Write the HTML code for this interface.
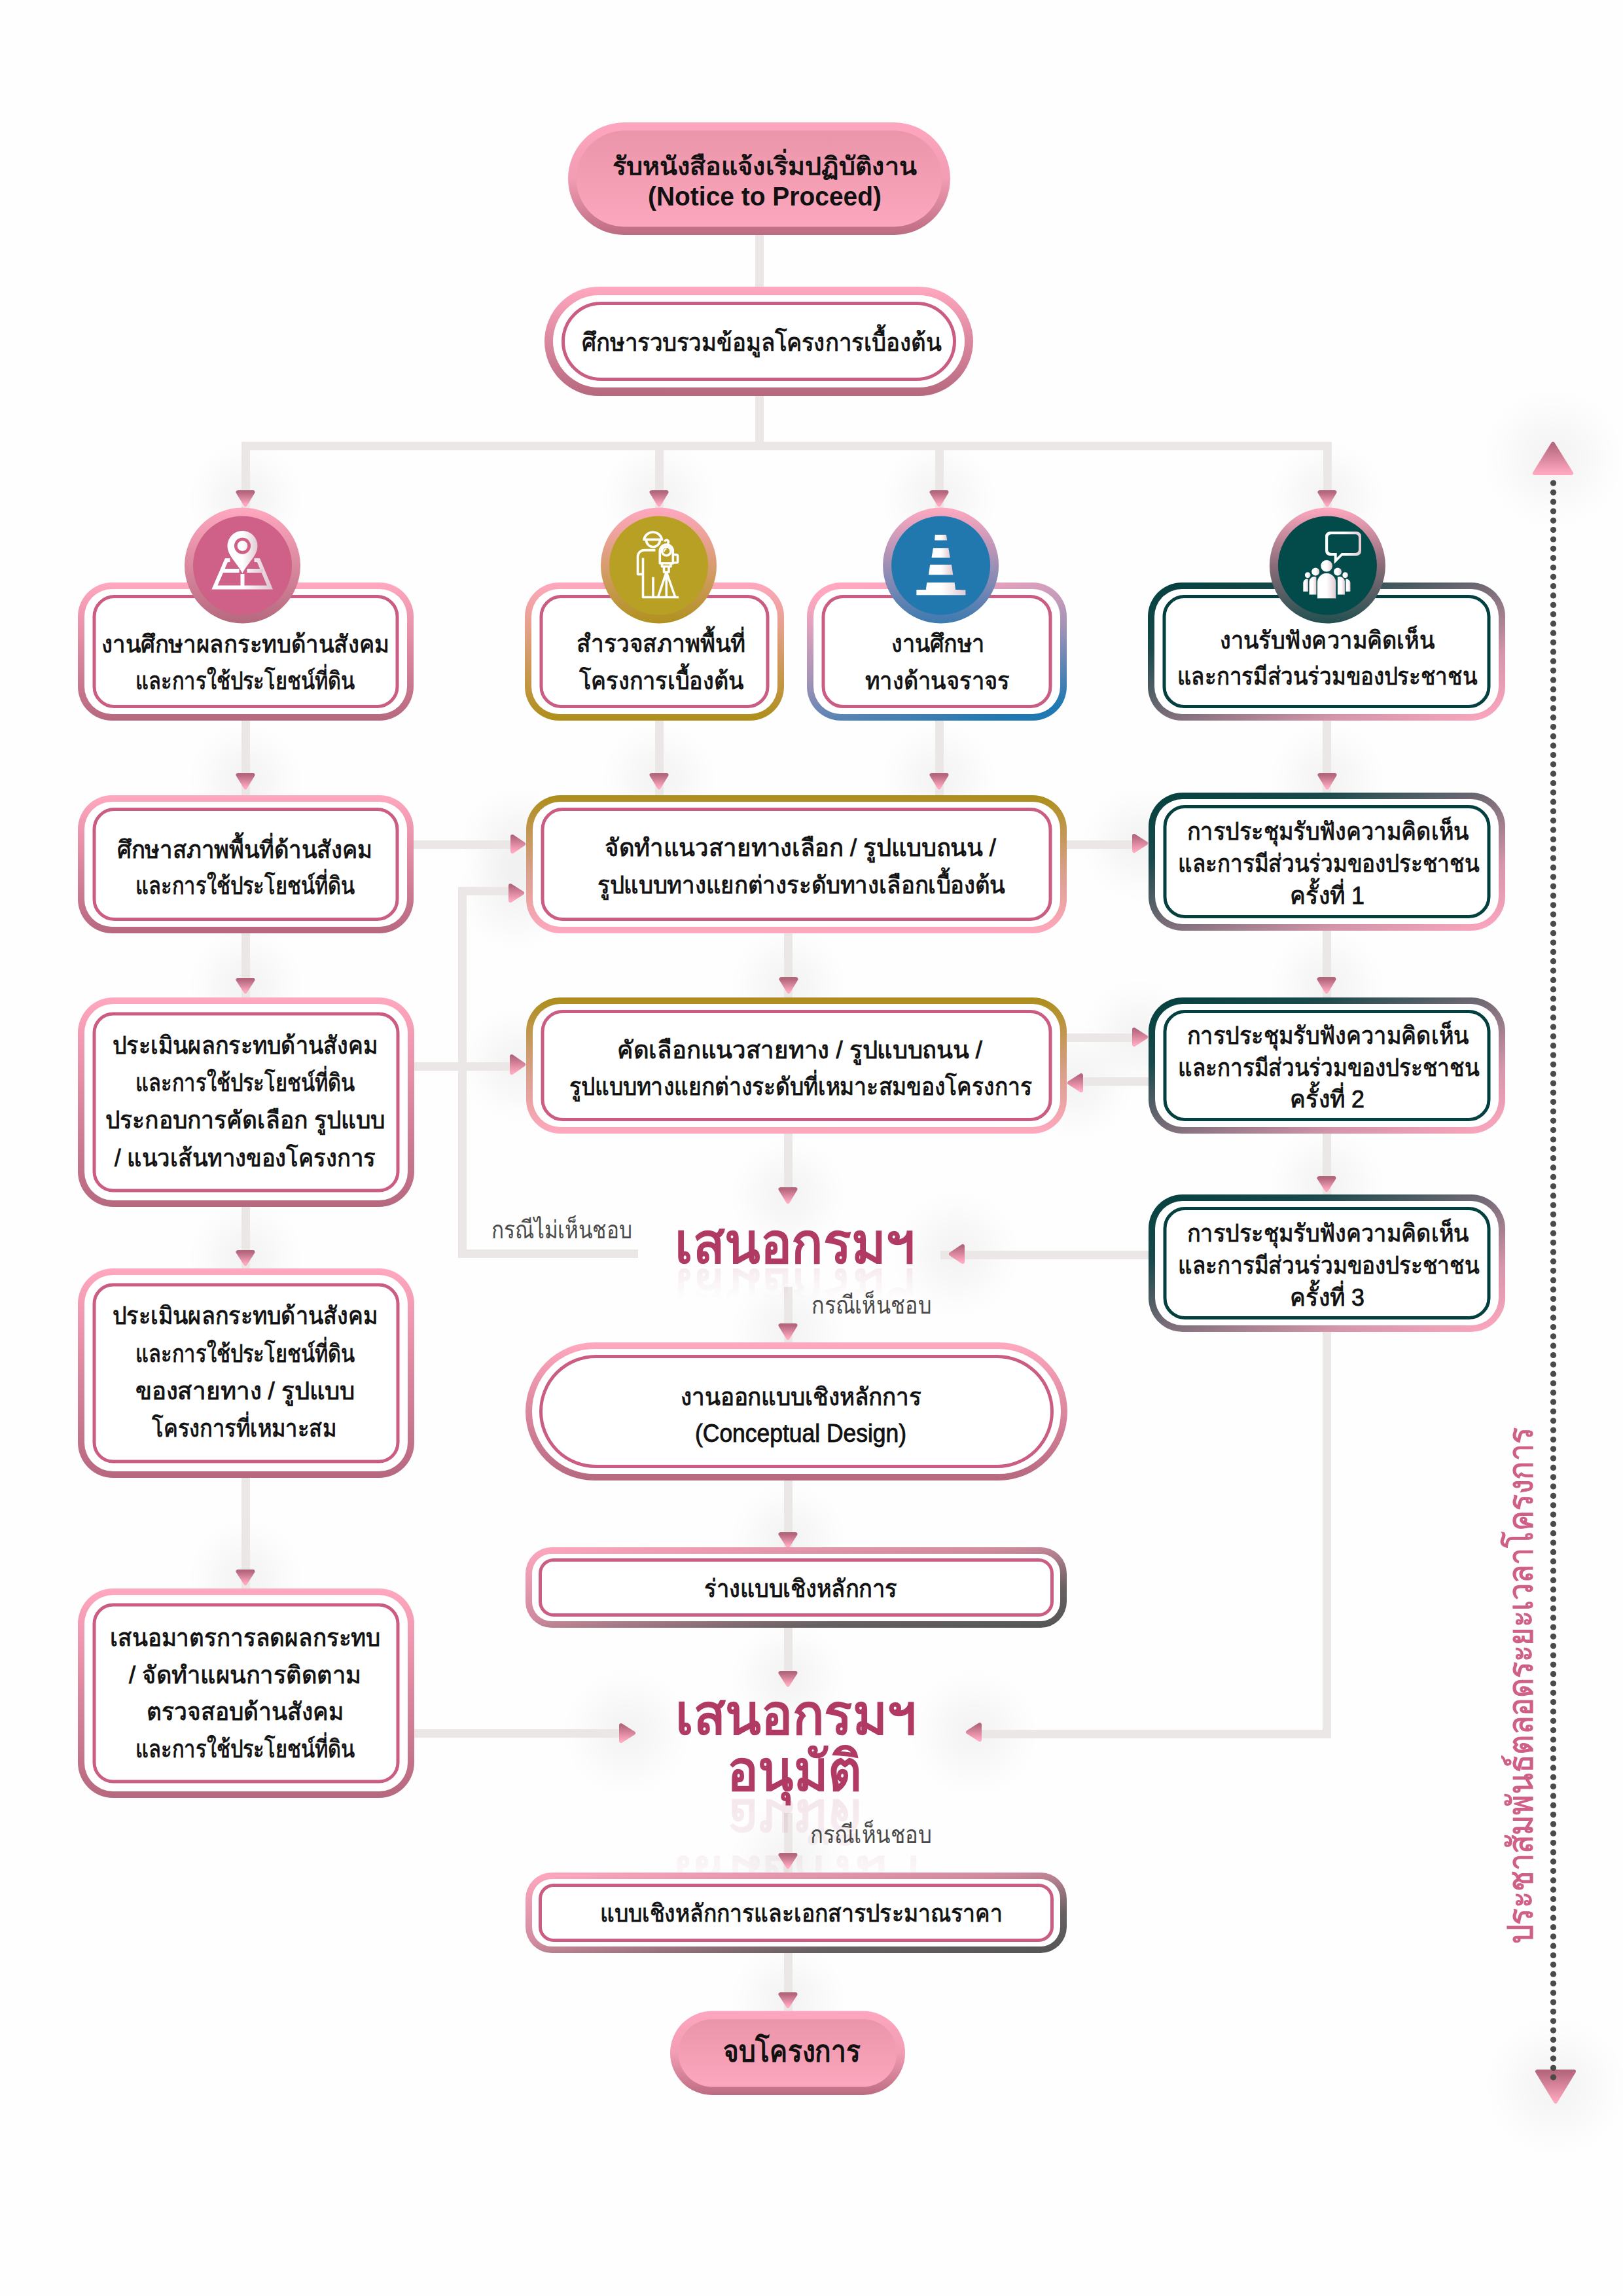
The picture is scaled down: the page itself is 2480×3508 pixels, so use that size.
<!DOCTYPE html>
<html><head><meta charset="utf-8"><style>
html,body{margin:0;padding:0;background:#fff;}
svg{display:block;font-family:"Liberation Sans",sans-serif;}
</style></head><body>
<svg width="2480" height="3508" viewBox="0 0 2480 3508">
<defs><linearGradient id="gPink" x1="0" y1="0" x2="0" y2="1"><stop offset="0" stop-color="#ffa8c0"/><stop offset="1" stop-color="#b6687e"/></linearGradient><linearGradient id="gPinkGold" x1="0" y1="0" x2="0" y2="1"><stop offset="0" stop-color="#ffa8c0"/><stop offset="1" stop-color="#ad8f18"/></linearGradient><linearGradient id="gGoldPink" x1="0" y1="0" x2="0" y2="1"><stop offset="0" stop-color="#ac8e1a"/><stop offset="0.55" stop-color="#d9a08a"/><stop offset="1" stop-color="#ffa8c0"/></linearGradient><linearGradient id="gPinkBlue" x1="0.3" y1="0" x2="0.7" y2="1"><stop offset="0" stop-color="#ffa8c0"/><stop offset="0.5" stop-color="#a593b6"/><stop offset="1" stop-color="#1f78b2"/></linearGradient><linearGradient id="gTealPink" x1="0" y1="0" x2="1" y2="1"><stop offset="0" stop-color="#03403f"/><stop offset="0.25" stop-color="#1a4a4b"/><stop offset="0.5" stop-color="#786c77"/><stop offset="0.75" stop-color="#d495aa"/><stop offset="1" stop-color="#ffa8c0"/></linearGradient><linearGradient id="gPinkGray" x1="0" y1="0" x2="1" y2="1"><stop offset="0" stop-color="#ffa8c0"/><stop offset="0.45" stop-color="#d08a9e"/><stop offset="0.75" stop-color="#666061"/><stop offset="1" stop-color="#555555"/></linearGradient><linearGradient id="gArrow" x1="0" y1="0" x2="0" y2="1"><stop offset="0" stop-color="#b4667c"/><stop offset="1" stop-color="#ffa8c0"/></linearGradient><linearGradient id="gPillOut" x1="0" y1="0" x2="0" y2="1"><stop offset="0" stop-color="#fea6bf"/><stop offset="0.5" stop-color="#f19db4"/><stop offset="1" stop-color="#bc6c82"/></linearGradient><linearGradient id="gPillIn" x1="0" y1="0" x2="0" y2="1"><stop offset="0" stop-color="#ea95a9"/><stop offset="1" stop-color="#fca7bd"/></linearGradient><linearGradient id="gCircPink" x1="0" y1="0" x2="0" y2="1"><stop offset="0" stop-color="#ffa8c0"/><stop offset="1" stop-color="#b5697e"/></linearGradient><linearGradient id="gCircGold" x1="0" y1="0" x2="0" y2="1"><stop offset="0" stop-color="#ffa8c0"/><stop offset="1" stop-color="#b0911e"/></linearGradient><linearGradient id="gCircBlue" x1="0" y1="0" x2="0" y2="1"><stop offset="0" stop-color="#ffa8c0"/><stop offset="0.5" stop-color="#9f8fb5"/><stop offset="1" stop-color="#3b7ab0"/></linearGradient><linearGradient id="gCircTeal" x1="0" y1="0" x2="0" y2="1"><stop offset="0" stop-color="#ffa8c0"/><stop offset="0.5" stop-color="#8a6c78"/><stop offset="1" stop-color="#21504f"/></linearGradient><linearGradient id="gIcon" x1="0" y1="0" x2="1" y2="0"><stop offset="0" stop-color="#ffffff"/><stop offset="0.5" stop-color="#ffffff"/><stop offset="1" stop-color="#e2cad2"/></linearGradient><linearGradient id="gRefl" x1="0" y1="0" x2="0" y2="1"><stop offset="0" stop-color="#f3d5de"/><stop offset="1" stop-color="#ffffff"/></linearGradient><radialGradient id="gGlow"><stop offset="0" stop-color="#000" stop-opacity="0.045"/><stop offset="0.4" stop-color="#000" stop-opacity="0.028"/><stop offset="0.75" stop-color="#000" stop-opacity="0.009"/><stop offset="1" stop-color="#000" stop-opacity="0"/></radialGradient><linearGradient id="gFade" x1="0" y1="0" x2="0" y2="1"><stop offset="0" stop-color="#fff" stop-opacity="0.1"/><stop offset="0.45" stop-color="#fff" stop-opacity="0.055"/><stop offset="1" stop-color="#fff" stop-opacity="0"/></linearGradient><mask id="mR1" maskUnits="userSpaceOnUse" x="900" y="1936" width="700" height="60"><rect x="900" y="1936" width="700" height="48" fill="url(#gFade)"/></mask><mask id="mR2" maskUnits="userSpaceOnUse" x="900" y="2746" width="700" height="130"><rect x="900" y="2746" width="700" height="119" fill="url(#gFade2)"/></mask><linearGradient id="gFade2" x1="0" y1="0" x2="0" y2="1"><stop offset="0" stop-color="#fff" stop-opacity="0.12"/><stop offset="0.5" stop-color="#fff" stop-opacity="0.08"/><stop offset="1" stop-color="#fff" stop-opacity="0.04"/></linearGradient></defs>
<rect width="2480" height="3508" fill="#fefefe"/>
<circle cx="375" cy="762" r="90" fill="url(#gGlow)"/>
<circle cx="1007" cy="762" r="90" fill="url(#gGlow)"/>
<circle cx="1435" cy="762" r="90" fill="url(#gGlow)"/>
<circle cx="2028" cy="762" r="90" fill="url(#gGlow)"/>
<circle cx="375" cy="1192" r="90" fill="url(#gGlow)"/>
<circle cx="1007" cy="1192" r="90" fill="url(#gGlow)"/>
<circle cx="1435" cy="1192" r="90" fill="url(#gGlow)"/>
<circle cx="2028" cy="1192" r="90" fill="url(#gGlow)"/>
<circle cx="375" cy="1505" r="90" fill="url(#gGlow)"/>
<circle cx="1205" cy="1505" r="90" fill="url(#gGlow)"/>
<circle cx="2027" cy="1505" r="90" fill="url(#gGlow)"/>
<circle cx="791" cy="1289" r="90" fill="url(#gGlow)"/>
<circle cx="788" cy="1364" r="90" fill="url(#gGlow)"/>
<circle cx="1741" cy="1289" r="90" fill="url(#gGlow)"/>
<circle cx="791" cy="1626" r="90" fill="url(#gGlow)"/>
<circle cx="1741" cy="1584" r="90" fill="url(#gGlow)"/>
<circle cx="1644" cy="1654" r="90" fill="url(#gGlow)"/>
<circle cx="2027" cy="1809" r="90" fill="url(#gGlow)"/>
<circle cx="1204" cy="1826" r="90" fill="url(#gGlow)"/>
<circle cx="1461" cy="1916" r="100" fill="url(#gGlow)"/>
<circle cx="375" cy="1921" r="90" fill="url(#gGlow)"/>
<circle cx="1204" cy="2034" r="90" fill="url(#gGlow)"/>
<circle cx="375" cy="2410" r="90" fill="url(#gGlow)"/>
<circle cx="1204" cy="2353" r="90" fill="url(#gGlow)"/>
<circle cx="1204" cy="2565" r="90" fill="url(#gGlow)"/>
<circle cx="958" cy="2647" r="100" fill="url(#gGlow)"/>
<circle cx="1488" cy="2647" r="100" fill="url(#gGlow)"/>
<circle cx="1204" cy="2843" r="90" fill="url(#gGlow)"/>
<circle cx="1204" cy="3056" r="90" fill="url(#gGlow)"/>
<circle cx="2373" cy="700" r="110" fill="url(#gGlow)"/>
<circle cx="2377" cy="3187" r="110" fill="url(#gGlow)"/>
<rect x="1154" y="355" width="13" height="86" fill="#ebe7e6"/>
<rect x="1154" y="602" width="13" height="86" fill="#ebe7e6"/>
<rect x="369" y="675" width="1665" height="13" fill="#ebe7e6"/>
<rect x="369" y="675" width="13" height="115" fill="#ebe7e6"/>
<rect x="1001" y="675" width="13" height="115" fill="#ebe7e6"/>
<rect x="1429" y="675" width="13" height="115" fill="#ebe7e6"/>
<rect x="2022" y="675" width="13" height="115" fill="#ebe7e6"/>
<rect x="369" y="1098" width="13" height="120" fill="#ebe7e6"/>
<rect x="1001" y="1098" width="13" height="120" fill="#ebe7e6"/>
<rect x="1429" y="1098" width="13" height="120" fill="#ebe7e6"/>
<rect x="2021" y="1098" width="13" height="116" fill="#ebe7e6"/>
<rect x="369" y="1423" width="13" height="104" fill="#ebe7e6"/>
<rect x="1198" y="1423" width="13" height="104" fill="#ebe7e6"/>
<rect x="2021" y="1419" width="13" height="108" fill="#ebe7e6"/>
<rect x="369" y="1841" width="13" height="100" fill="#ebe7e6"/>
<rect x="369" y="2255" width="13" height="175" fill="#ebe7e6"/>
<rect x="630" y="1284" width="151" height="13" fill="#ebe7e6"/>
<rect x="630" y="1623" width="151" height="13" fill="#ebe7e6"/>
<rect x="700" y="1355" width="13" height="567" fill="#ebe7e6"/>
<rect x="700" y="1355" width="78" height="13" fill="#ebe7e6"/>
<rect x="700" y="1909" width="275" height="13" fill="#ebe7e6"/>
<rect x="1628" y="1284" width="103" height="13" fill="#ebe7e6"/>
<rect x="1628" y="1579" width="103" height="13" fill="#ebe7e6"/>
<rect x="1654" y="1646" width="103" height="13" fill="#ebe7e6"/>
<rect x="1437" y="1911" width="320" height="13" fill="#ebe7e6"/>
<rect x="2021" y="1729" width="13" height="99" fill="#ebe7e6"/>
<rect x="1198" y="1729" width="13" height="91" fill="#ebe7e6"/>
<rect x="1198" y="1966" width="13" height="88" fill="#ebe7e6"/>
<rect x="1198" y="2259" width="13" height="109" fill="#ebe7e6"/>
<rect x="1198" y="2483" width="13" height="77" fill="#ebe7e6"/>
<rect x="1198" y="2770" width="13" height="94" fill="#ebe7e6"/>
<rect x="1198" y="2980" width="13" height="94" fill="#ebe7e6"/>
<rect x="630" y="2642" width="320" height="13" fill="#ebe7e6"/>
<rect x="2021" y="2032" width="13" height="624" fill="#ebe7e6"/>
<rect x="1495" y="2643" width="539" height="13" fill="#ebe7e6"/>
<rect x="868" y="187" width="584" height="172" rx="86.0" fill="url(#gPillOut)"/>
<rect x="880.6" y="199.6" width="558.8" height="146.8" rx="73.4" fill="url(#gPillIn)"/>
<text x="1168.5" y="267" font-size="38" font-weight="bold" fill="#111111" text-anchor="middle" textLength="465" lengthAdjust="spacingAndGlyphs">รับหนังสือแจ้งเริ่มปฏิบัติงาน</text>
<text x="1168.5" y="313.5" font-size="40" font-weight="bold" fill="#111111" text-anchor="middle" textLength="357" lengthAdjust="spacingAndGlyphs">(Notice to Proceed)</text>
<rect x="832" y="438" width="655" height="167" rx="83.5" fill="url(#gPink)"/>
<rect x="845" y="451" width="629" height="141" rx="70.5" fill="#fff"/>
<rect x="860.5" y="463.5" width="598.0" height="116.0" rx="58.0" fill="none" stroke="#cb5d84" stroke-width="5"/>
<text x="1164.0" y="536" font-size="38" font-weight="normal" fill="#111111" stroke="#111111" stroke-width="0.9" text-anchor="middle" textLength="550" lengthAdjust="spacingAndGlyphs">ศึกษารวบรวมข้อมูลโครงการเบื้องต้น</text>
<rect x="119" y="890" width="513" height="211" rx="52" fill="url(#gPink)"/>
<rect x="129" y="900" width="493" height="191" rx="42" fill="#fff"/>
<rect x="144.0" y="911.5" width="463.0" height="168.0" rx="30.5" fill="none" stroke="#cb5d84" stroke-width="5"/>
<rect x="802" y="890" width="396" height="211" rx="52" fill="url(#gPinkGold)"/>
<rect x="812" y="900" width="376" height="191" rx="42" fill="#fff"/>
<rect x="827.0" y="911.5" width="346.0" height="168.0" rx="30.5" fill="none" stroke="#cb5d84" stroke-width="5"/>
<rect x="1233" y="890" width="397" height="211" rx="52" fill="url(#gPinkBlue)"/>
<rect x="1243" y="900" width="377" height="191" rx="42" fill="#fff"/>
<rect x="1258.0" y="911.5" width="347.0" height="168.0" rx="30.5" fill="none" stroke="#cb5d84" stroke-width="5"/>
<rect x="1754" y="890" width="546" height="211" rx="52" fill="url(#gTealPink)"/>
<rect x="1764" y="900" width="526" height="191" rx="42" fill="#fff"/>
<rect x="1779.0" y="911.5" width="496.0" height="168.0" rx="30.5" fill="none" stroke="#03403f" stroke-width="5"/>
<circle cx="370.5" cy="864" r="88.5" fill="url(#gCircPink)"/>
<circle cx="370.5" cy="864" r="75.5" fill="#cf6087"/>
<circle cx="1006.5" cy="864" r="88.5" fill="url(#gCircGold)"/>
<circle cx="1006.5" cy="864" r="75.5" fill="#b8a024"/>
<circle cx="1437.6" cy="864" r="88.5" fill="url(#gCircBlue)"/>
<circle cx="1437.6" cy="864" r="75.5" fill="#2178ae"/>
<circle cx="2028.4" cy="864" r="88.5" fill="url(#gCircTeal)"/>
<circle cx="2028.4" cy="864" r="75.5" fill="#034a4b"/>
<g transform="translate(370.5,864)"><g fill="none" stroke="url(#gIcon)" stroke-width="6" stroke-linejoin="miter"><path d="M-19,-8 L-24.6,-8 L-42.5,33.6 L42,33.6 L24.5,-8 L18,-8"/><path d="M-31.5,8 L-5,8 M7,8 L31.2,8 M0,13 L0,33"/></g><path d="M0,-53 A23,23 0 0 1 23,-30 C23,-15 8,-4 0,12 C-8,-4 -23,-15 -23,-30 A23,23 0 0 1 0,-53 Z M0,-42.6 A12.6,12.6 0 1 0 0.01,-42.6 Z M0,-37.8 A7.8,7.8 0 1 1 -0.01,-37.8 Z" fill="url(#gIcon)" fill-rule="evenodd"/></g>
<g transform="translate(1006.5,864)"><g fill="none" stroke="#fff" stroke-width="3.6" stroke-linecap="butt" stroke-linejoin="round"><path d="M-22.5,-39.6 A14,14 0 0 1 5,-39.6 Z"/><path d="M-19,-39 A10.5,10.5 0 0 0 2,-39"/><path d="M-5,-23.4 L-22,-23.4 A10,10 0 0 0 -32,-13.4 L-32,13.4 L-24,13.4 M-24,-11.4 L-24,48.5 L30.4,48.5 M-8.5,17.7 L-8.5,48.5"/><path d="M1.8,-3.3 L1.8,-22 A10,10 0 0 1 21.8,-22 L21.8,-3.3 Z"/><circle cx="11.8" cy="-22" r="6.8"/><path d="M8.5,-21 A4,4 0 0 1 12,-25.5" stroke-width="2"/><path d="M21.8,-16.5 L27,-16.5 A2,2 0 0 1 29,-14.5 L29,-6.3 A2,2 0 0 1 27,-4.3 L21.8,-4.3"/><path d="M5,-3.3 L5,1.5 L18.5,1.5 L18.5,-3.3 M8,1.5 L8,10 L15.5,10 L15.5,1.5 M11.8,10 L-1,48.5 M11.8,10 L11.8,48.5 M11.8,10 L25.3,48.5"/><path d="M9,-36.5 A3,3 0 1 1 13,-33"/></g></g>
<g transform="translate(1437.6,864)"><g fill="url(#gIcon)"><polygon points="-8.8,-47 8.3,-47 9.6,-38.5 -9.4,-38.5"/><polygon points="-11.6,-26.8 11.7,-26.8 14.2,-12 -14.1,-12"/><polygon points="-16.4,-1.3 16.4,-1.3 18.7,14.3 -18.7,14.3"/><polygon points="-21.3,26.1 21.1,26.1 22.5,36.9 37.8,37.5 37.8,45.3 -37.2,45.3 -37.2,36.9 -22.8,36.9"/></g></g>
<g transform="translate(2028.4,864)"><g fill="url(#gIcon)"><path d="M-3.3,-44.8 A7,7 0 0 1 3.7,-51.8 L44.6,-51.8 A7,7 0 0 1 51.6,-44.8 L51.6,-22 A7,7 0 0 1 44.6,-15 L22.8,-15 L10.3,-2.6 L10.3,-15 L3.7,-15 A7,7 0 0 1 -3.3,-22 Z M0.8,-42.8 L0.8,-24 A5,5 0 0 0 5.8,-19 L14.3,-19 L14.3,-11.8 L21.5,-19 L42.6,-19 A5,5 0 0 0 47.6,-24 L47.6,-42.8 A5,5 0 0 0 42.6,-47.8 L5.8,-47.8 A5,5 0 0 0 0.8,-42.8 Z" fill-rule="evenodd"/><circle cx="-1.3" cy="0.6" r="8.9"/><path d="M-15.4,50.3 L-15.4,25.9 A14,14 0 0 1 12.8,25.9 L12.8,50.3 Z"/><circle cx="-18.2" cy="9.5" r="6"/><circle cx="15.6" cy="9.5" r="6"/><path d="M-27.9,44.6 L-27.9,25 A8,8 0 0 1 -17,17.6 L-17,44.6 Z"/><path d="M26.5,44.6 L26.5,25 A8,8 0 0 0 15.5,17.6 L15.5,44.6 Z"/><circle cx="-30.2" cy="14.6" r="4.3"/><circle cx="27.2" cy="14.6" r="4.3"/><path d="M-37.1,39.8 L-37.1,26 A6,6 0 0 1 -29.5,20.8 L-29.5,39.8 Z"/><path d="M35,39.8 L35,26 A6,6 0 0 0 28,20.8 L28,39.8 Z"/></g></g>
<text x="375.0" y="997" font-size="37" font-weight="normal" fill="#111111" stroke="#111111" stroke-width="0.9" text-anchor="middle" textLength="440" lengthAdjust="spacingAndGlyphs">งานศึกษาผลกระทบด้านสังคม</text>
<text x="374.5" y="1053" font-size="37" font-weight="normal" fill="#111111" stroke="#111111" stroke-width="0.9" text-anchor="middle" textLength="335" lengthAdjust="spacingAndGlyphs">และการใช้ประโยชน์ที่ดิน</text>
<text x="1010.0" y="995.5" font-size="37" font-weight="normal" fill="#111111" stroke="#111111" stroke-width="0.9" text-anchor="middle" textLength="258" lengthAdjust="spacingAndGlyphs">สำรวจสภาพพื้นที่</text>
<text x="1010.25" y="1052.5" font-size="37" font-weight="normal" fill="#111111" stroke="#111111" stroke-width="0.9" text-anchor="middle" textLength="251.5" lengthAdjust="spacingAndGlyphs">โครงการเบื้องต้น</text>
<text x="1433.0" y="995.7" font-size="37" font-weight="normal" fill="#111111" stroke="#111111" stroke-width="0.9" text-anchor="middle" textLength="142" lengthAdjust="spacingAndGlyphs">งานศึกษา</text>
<text x="1432.5" y="1053" font-size="37" font-weight="normal" fill="#111111" stroke="#111111" stroke-width="0.9" text-anchor="middle" textLength="221" lengthAdjust="spacingAndGlyphs">ทางด้านจราจร</text>
<text x="2028.0" y="991" font-size="37" font-weight="normal" fill="#111111" stroke="#111111" stroke-width="0.9" text-anchor="middle" textLength="328" lengthAdjust="spacingAndGlyphs">งานรับฟังความคิดเห็น</text>
<text x="2028.0" y="1046" font-size="37" font-weight="normal" fill="#111111" stroke="#111111" stroke-width="0.9" text-anchor="middle" textLength="458" lengthAdjust="spacingAndGlyphs">และการมีส่วนร่วมของประชาชน</text>
<polygon points="363.5,752.0 386.5,752.0 375.0,771.0" fill="url(#gArrow)" stroke="url(#gArrow)" stroke-width="6.0" stroke-linejoin="round"/>
<polygon points="995.5,752.0 1018.5,752.0 1007.0,771.0" fill="url(#gArrow)" stroke="url(#gArrow)" stroke-width="6.0" stroke-linejoin="round"/>
<polygon points="1423.5,752.0 1446.5,752.0 1435.0,771.0" fill="url(#gArrow)" stroke="url(#gArrow)" stroke-width="6.0" stroke-linejoin="round"/>
<polygon points="2016.5,752.0 2039.5,752.0 2028.0,771.0" fill="url(#gArrow)" stroke="url(#gArrow)" stroke-width="6.0" stroke-linejoin="round"/>
<rect x="119" y="1215" width="513" height="211" rx="52" fill="url(#gPink)"/>
<rect x="129" y="1225" width="493" height="191" rx="42" fill="#fff"/>
<rect x="144.0" y="1236.5" width="463.0" height="168.0" rx="30.5" fill="none" stroke="#cb5d84" stroke-width="5"/>
<text x="374.0" y="1311" font-size="37" font-weight="normal" fill="#111111" stroke="#111111" stroke-width="0.9" text-anchor="middle" textLength="390" lengthAdjust="spacingAndGlyphs">ศึกษาสภาพพื้นที่ด้านสังคม</text>
<text x="374.5" y="1366" font-size="37" font-weight="normal" fill="#111111" stroke="#111111" stroke-width="0.9" text-anchor="middle" textLength="335" lengthAdjust="spacingAndGlyphs">และการใช้ประโยชน์ที่ดิน</text>
<rect x="804" y="1215" width="826" height="211" rx="52" fill="url(#gGoldPink)"/>
<rect x="814" y="1225" width="806" height="191" rx="42" fill="#fff"/>
<rect x="829.0" y="1236.5" width="776.0" height="168.0" rx="30.5" fill="none" stroke="#cb5d84" stroke-width="5"/>
<text x="1223.0" y="1308" font-size="37" font-weight="normal" fill="#111111" stroke="#111111" stroke-width="0.9" text-anchor="middle" textLength="598" lengthAdjust="spacingAndGlyphs">จัดทำแนวสายทางเลือก / รูปแบบถนน /</text>
<text x="1224.5" y="1365" font-size="37" font-weight="normal" fill="#111111" stroke="#111111" stroke-width="0.9" text-anchor="middle" textLength="623" lengthAdjust="spacingAndGlyphs">รูปแบบทางแยกต่างระดับทางเลือกเบื้องต้น</text>
<rect x="1755" y="1211" width="545" height="211" rx="52" fill="url(#gTealPink)"/>
<rect x="1765" y="1221" width="525" height="191" rx="42" fill="#fff"/>
<rect x="1780.0" y="1232.5" width="495.0" height="168.0" rx="30.5" fill="none" stroke="#03403f" stroke-width="5"/>
<text x="2029.0" y="1283" font-size="37" font-weight="normal" fill="#111111" stroke="#111111" stroke-width="0.9" text-anchor="middle" textLength="430" lengthAdjust="spacingAndGlyphs">การประชุมรับฟังความคิดเห็น</text>
<text x="2030.0" y="1332" font-size="37" font-weight="normal" fill="#111111" stroke="#111111" stroke-width="0.9" text-anchor="middle" textLength="460" lengthAdjust="spacingAndGlyphs">และการมีส่วนร่วมของประชาชน</text>
<text x="2028.0" y="1381" font-size="37" font-weight="normal" fill="#111111" stroke="#111111" stroke-width="0.9" text-anchor="middle" textLength="114" lengthAdjust="spacingAndGlyphs">ครั้งที่ 1</text>
<polygon points="363.5,1184.0 386.5,1184.0 375.0,1203.0" fill="url(#gArrow)" stroke="url(#gArrow)" stroke-width="6.0" stroke-linejoin="round"/>
<polygon points="995.5,1184.0 1018.5,1184.0 1007.0,1203.0" fill="url(#gArrow)" stroke="url(#gArrow)" stroke-width="6.0" stroke-linejoin="round"/>
<polygon points="1423.5,1184.0 1446.5,1184.0 1435.0,1203.0" fill="url(#gArrow)" stroke="url(#gArrow)" stroke-width="6.0" stroke-linejoin="round"/>
<polygon points="2016.5,1184.0 2039.5,1184.0 2028.0,1203.0" fill="url(#gArrow)" stroke="url(#gArrow)" stroke-width="6.0" stroke-linejoin="round"/>
<polygon points="783.0,1278.0 800.0,1289.5 783.0,1301.0" fill="url(#gArrow)" stroke="url(#gArrow)" stroke-width="6.0" stroke-linejoin="round"/>
<polygon points="780.0,1353.0 798.0,1364.5 780.0,1376.0" fill="url(#gArrow)" stroke="url(#gArrow)" stroke-width="6.0" stroke-linejoin="round"/>
<polygon points="1733.0,1277.0 1751.0,1288.5 1733.0,1300.0" fill="url(#gArrow)" stroke="url(#gArrow)" stroke-width="6.0" stroke-linejoin="round"/>
<rect x="119" y="1524" width="514" height="320" rx="54" fill="url(#gPink)"/>
<rect x="129" y="1534" width="494" height="300" rx="44" fill="#fff"/>
<rect x="144.0" y="1549.0" width="464.0" height="270.0" rx="29.0" fill="none" stroke="#cb5d84" stroke-width="5"/>
<text x="374.5" y="1610" font-size="37" font-weight="normal" fill="#111111" stroke="#111111" stroke-width="0.9" text-anchor="middle" textLength="405" lengthAdjust="spacingAndGlyphs">ประเมินผลกระทบด้านสังคม</text>
<text x="374.5" y="1667" font-size="37" font-weight="normal" fill="#111111" stroke="#111111" stroke-width="0.9" text-anchor="middle" textLength="335" lengthAdjust="spacingAndGlyphs">และการใช้ประโยชน์ที่ดิน</text>
<text x="374.5" y="1724" font-size="37" font-weight="normal" fill="#111111" stroke="#111111" stroke-width="0.9" text-anchor="middle" textLength="427" lengthAdjust="spacingAndGlyphs">ประกอบการคัดเลือก รูปแบบ</text>
<text x="374.5" y="1781.5" font-size="37" font-weight="normal" fill="#111111" stroke="#111111" stroke-width="0.9" text-anchor="middle" textLength="399" lengthAdjust="spacingAndGlyphs">/ แนวเส้นทางของโครงการ</text>
<rect x="804" y="1524" width="826" height="208" rx="52" fill="url(#gGoldPink)"/>
<rect x="814" y="1534" width="806" height="188" rx="42" fill="#fff"/>
<rect x="829.0" y="1545.5" width="776.0" height="165.0" rx="30.5" fill="none" stroke="#cb5d84" stroke-width="5"/>
<text x="1222.0" y="1616.5" font-size="37" font-weight="normal" fill="#111111" stroke="#111111" stroke-width="0.9" text-anchor="middle" textLength="558" lengthAdjust="spacingAndGlyphs">คัดเลือกแนวสายทาง / รูปแบบถนน /</text>
<text x="1223.5" y="1673" font-size="37" font-weight="normal" fill="#111111" stroke="#111111" stroke-width="0.9" text-anchor="middle" textLength="707" lengthAdjust="spacingAndGlyphs">รูปแบบทางแยกต่างระดับที่เหมาะสมของโครงการ</text>
<rect x="1755" y="1524" width="545" height="208" rx="52" fill="url(#gTealPink)"/>
<rect x="1765" y="1534" width="525" height="188" rx="42" fill="#fff"/>
<rect x="1780.0" y="1545.5" width="495.0" height="165.0" rx="30.5" fill="none" stroke="#03403f" stroke-width="5"/>
<text x="2029.0" y="1595" font-size="37" font-weight="normal" fill="#111111" stroke="#111111" stroke-width="0.9" text-anchor="middle" textLength="430" lengthAdjust="spacingAndGlyphs">การประชุมรับฟังความคิดเห็น</text>
<text x="2030.0" y="1644" font-size="37" font-weight="normal" fill="#111111" stroke="#111111" stroke-width="0.9" text-anchor="middle" textLength="460" lengthAdjust="spacingAndGlyphs">และการมีส่วนร่วมของประชาชน</text>
<text x="2028.0" y="1692" font-size="37" font-weight="normal" fill="#111111" stroke="#111111" stroke-width="0.9" text-anchor="middle" textLength="114" lengthAdjust="spacingAndGlyphs">ครั้งที่ 2</text>
<polygon points="363.5,1497.0 386.5,1497.0 375.0,1515.0" fill="url(#gArrow)" stroke="url(#gArrow)" stroke-width="6.0" stroke-linejoin="round"/>
<polygon points="1193.5,1496.0 1216.5,1496.0 1205.0,1515.0" fill="url(#gArrow)" stroke="url(#gArrow)" stroke-width="6.0" stroke-linejoin="round"/>
<polygon points="2015.5,1496.0 2038.5,1496.0 2027.0,1515.0" fill="url(#gArrow)" stroke="url(#gArrow)" stroke-width="6.0" stroke-linejoin="round"/>
<polygon points="782.0,1614.0 800.0,1626.5 782.0,1639.0" fill="url(#gArrow)" stroke="url(#gArrow)" stroke-width="6.0" stroke-linejoin="round"/>
<polygon points="1733.0,1573.0 1751.0,1584.5 1733.0,1596.0" fill="url(#gArrow)" stroke="url(#gArrow)" stroke-width="6.0" stroke-linejoin="round"/>
<polygon points="1652.0,1643.0 1652.0,1666.0 1634.0,1654.5" fill="url(#gArrow)" stroke="url(#gArrow)" stroke-width="6.0" stroke-linejoin="round"/>
<rect x="119" y="1938" width="514" height="320" rx="54" fill="url(#gPink)"/>
<rect x="129" y="1948" width="494" height="300" rx="44" fill="#fff"/>
<rect x="144.0" y="1963.0" width="464.0" height="270.0" rx="29.0" fill="none" stroke="#cb5d84" stroke-width="5"/>
<text x="374.5" y="2023" font-size="37" font-weight="normal" fill="#111111" stroke="#111111" stroke-width="0.9" text-anchor="middle" textLength="405" lengthAdjust="spacingAndGlyphs">ประเมินผลกระทบด้านสังคม</text>
<text x="374.5" y="2081" font-size="37" font-weight="normal" fill="#111111" stroke="#111111" stroke-width="0.9" text-anchor="middle" textLength="335" lengthAdjust="spacingAndGlyphs">และการใช้ประโยชน์ที่ดิน</text>
<text x="374.5" y="2138" font-size="37" font-weight="normal" fill="#111111" stroke="#111111" stroke-width="0.9" text-anchor="middle" textLength="335" lengthAdjust="spacingAndGlyphs">ของสายทาง / รูปแบบ</text>
<text x="373.0" y="2195" font-size="37" font-weight="normal" fill="#111111" stroke="#111111" stroke-width="0.9" text-anchor="middle" textLength="282" lengthAdjust="spacingAndGlyphs">โครงการที่เหมาะสม</text>
<rect x="1755" y="1825" width="545" height="210" rx="52" fill="url(#gTealPink)"/>
<rect x="1765" y="1835" width="525" height="190" rx="42" fill="#fff"/>
<rect x="1780.0" y="1846.5" width="495.0" height="167.0" rx="30.5" fill="none" stroke="#03403f" stroke-width="5"/>
<text x="2029.0" y="1897" font-size="37" font-weight="normal" fill="#111111" stroke="#111111" stroke-width="0.9" text-anchor="middle" textLength="430" lengthAdjust="spacingAndGlyphs">การประชุมรับฟังความคิดเห็น</text>
<text x="2030.0" y="1946" font-size="37" font-weight="normal" fill="#111111" stroke="#111111" stroke-width="0.9" text-anchor="middle" textLength="460" lengthAdjust="spacingAndGlyphs">และการมีส่วนร่วมของประชาชน</text>
<text x="2028.0" y="1995" font-size="37" font-weight="normal" fill="#111111" stroke="#111111" stroke-width="0.9" text-anchor="middle" textLength="114" lengthAdjust="spacingAndGlyphs">ครั้งที่ 3</text>
<polygon points="363.5,1913.0 386.5,1913.0 375.0,1931.0" fill="url(#gArrow)" stroke="url(#gArrow)" stroke-width="6.0" stroke-linejoin="round"/>
<polygon points="2015.5,1800.0 2038.5,1800.0 2027.0,1818.0" fill="url(#gArrow)" stroke="url(#gArrow)" stroke-width="6.0" stroke-linejoin="round"/>
<polygon points="1192.5,1817.0 1215.5,1817.0 1204.0,1836.0" fill="url(#gArrow)" stroke="url(#gArrow)" stroke-width="6.0" stroke-linejoin="round"/>
<polygon points="1471.0,1904.0 1471.0,1928.0 1453.0,1916.0" fill="url(#gArrow)" stroke="url(#gArrow)" stroke-width="6.0" stroke-linejoin="round"/>
<text x="1214.5" y="1928.5" font-size="84" font-weight="bold" fill="#b03a64" text-anchor="middle" textLength="367" lengthAdjust="spacingAndGlyphs">เสนอกรมฯ</text>
<g mask="url(#mR1)"><g transform="translate(0,3868) scale(1,-1)"><text x="1214.5" y="1928.5" font-size="84" font-weight="bold" fill="#b03a64" text-anchor="middle" textLength="367" lengthAdjust="spacingAndGlyphs">เสนอกรมฯ</text></g></g>
<text x="858.5" y="1892" font-size="38" font-weight="normal" fill="#4a4a4a" text-anchor="middle" textLength="215" lengthAdjust="spacingAndGlyphs">กรณีไม่เห็นชอบ</text>
<text x="1331.5" y="2007" font-size="38" font-weight="normal" fill="#4a4a4a" text-anchor="middle" textLength="183" lengthAdjust="spacingAndGlyphs">กรณีเห็นชอบ</text>
<polygon points="1192.5,2025.0 1215.5,2025.0 1204.0,2044.0" fill="url(#gArrow)" stroke="url(#gArrow)" stroke-width="6.0" stroke-linejoin="round"/>
<rect x="803" y="2051" width="828" height="211" rx="105.5" fill="url(#gPink)"/>
<rect x="813" y="2061" width="808" height="191" rx="95.5" fill="#fff"/>
<rect x="826.5" y="2072.5" width="781.0" height="168.0" rx="84.0" fill="none" stroke="#cb5d84" stroke-width="5"/>
<text x="1224.0" y="2147" font-size="37" font-weight="normal" fill="#111111" stroke="#111111" stroke-width="0.9" text-anchor="middle" textLength="368" lengthAdjust="spacingAndGlyphs">งานออกแบบเชิงหลักการ</text>
<text x="1223.5" y="2203" font-size="38" font-weight="normal" fill="#111111" stroke="#111111" stroke-width="0.9" text-anchor="middle" textLength="323" lengthAdjust="spacingAndGlyphs">(Conceptual Design)</text>
<rect x="119" y="2427" width="514" height="320" rx="54" fill="url(#gPink)"/>
<rect x="129" y="2437" width="494" height="300" rx="44" fill="#fff"/>
<rect x="144.0" y="2452.0" width="464.0" height="270.0" rx="29.0" fill="none" stroke="#cb5d84" stroke-width="5"/>
<text x="374.5" y="2514.5" font-size="37" font-weight="normal" fill="#111111" stroke="#111111" stroke-width="0.9" text-anchor="middle" textLength="413" lengthAdjust="spacingAndGlyphs">เสนอมาตรการลดผลกระทบ</text>
<text x="374.5" y="2571.5" font-size="37" font-weight="normal" fill="#111111" stroke="#111111" stroke-width="0.9" text-anchor="middle" textLength="355" lengthAdjust="spacingAndGlyphs">/ จัดทำแผนการติดตาม</text>
<text x="374.5" y="2628" font-size="37" font-weight="normal" fill="#111111" stroke="#111111" stroke-width="0.9" text-anchor="middle" textLength="301" lengthAdjust="spacingAndGlyphs">ตรวจสอบด้านสังคม</text>
<text x="374.5" y="2685" font-size="37" font-weight="normal" fill="#111111" stroke="#111111" stroke-width="0.9" text-anchor="middle" textLength="335" lengthAdjust="spacingAndGlyphs">และการใช้ประโยชน์ที่ดิน</text>
<polygon points="363.5,2401.0 386.5,2401.0 375.0,2419.0" fill="url(#gArrow)" stroke="url(#gArrow)" stroke-width="6.0" stroke-linejoin="round"/>
<polygon points="1192.5,2344.0 1215.5,2344.0 1204.0,2362.0" fill="url(#gArrow)" stroke="url(#gArrow)" stroke-width="6.0" stroke-linejoin="round"/>
<rect x="803" y="2364" width="827" height="123" rx="40" fill="url(#gPinkGray)"/>
<rect x="813" y="2374" width="807" height="103" rx="30" fill="#fff"/>
<rect x="825.5" y="2383.5" width="782.0" height="84.0" rx="20.5" fill="none" stroke="#cb5d84" stroke-width="5"/>
<text x="1223.5" y="2440" font-size="37" font-weight="normal" fill="#111111" stroke="#111111" stroke-width="0.9" text-anchor="middle" textLength="295" lengthAdjust="spacingAndGlyphs">ร่างแบบเชิงหลักการ</text>
<polygon points="1192.5,2556.0 1215.5,2556.0 1204.0,2574.0" fill="url(#gArrow)" stroke="url(#gArrow)" stroke-width="6.0" stroke-linejoin="round"/>
<text x="1216.0" y="2649" font-size="84" font-weight="bold" fill="#b03a64" text-anchor="middle" textLength="368" lengthAdjust="spacingAndGlyphs">เสนอกรมฯ</text>
<text x="1214.0" y="2735" font-size="84" font-weight="bold" fill="#b03a64" text-anchor="middle" textLength="206" lengthAdjust="spacingAndGlyphs">อนุมัติ</text>
<g mask="url(#mR2)"><g transform="translate(0,5486) scale(1,-1)"><text x="1216" y="2649" font-size="84" font-weight="bold" fill="#b03a64" text-anchor="middle" textLength="375" lengthAdjust="spacingAndGlyphs">เสนอกรมฯ</text><text x="1214" y="2735" font-size="84" font-weight="bold" fill="#b03a64" text-anchor="middle" textLength="206" lengthAdjust="spacingAndGlyphs">อนุมัติ</text></g></g>
<polygon points="949.0,2636.0 968.0,2648.0 949.0,2660.0" fill="url(#gArrow)" stroke="url(#gArrow)" stroke-width="6.0" stroke-linejoin="round"/>
<polygon points="1497.0,2635.0 1497.0,2658.0 1479.0,2646.5" fill="url(#gArrow)" stroke="url(#gArrow)" stroke-width="6.0" stroke-linejoin="round"/>
<text x="1331.0" y="2816" font-size="38" font-weight="normal" fill="#4a4a4a" text-anchor="middle" textLength="186" lengthAdjust="spacingAndGlyphs">กรณีเห็นชอบ</text>
<polygon points="1192.5,2834.0 1215.5,2834.0 1204.0,2852.0" fill="url(#gArrow)" stroke="url(#gArrow)" stroke-width="6.0" stroke-linejoin="round"/>
<rect x="803" y="2861" width="827" height="123" rx="40" fill="url(#gPinkGray)"/>
<rect x="813" y="2871" width="807" height="103" rx="30" fill="#fff"/>
<rect x="825.5" y="2880.5" width="782.0" height="84.0" rx="20.5" fill="none" stroke="#cb5d84" stroke-width="5"/>
<text x="1224.5" y="2936" font-size="37" font-weight="normal" fill="#111111" stroke="#111111" stroke-width="0.9" text-anchor="middle" textLength="615" lengthAdjust="spacingAndGlyphs">แบบเชิงหลักการและเอกสารประมาณราคา</text>
<polygon points="1192.5,3047.0 1215.5,3047.0 1204.0,3065.0" fill="url(#gArrow)" stroke="url(#gArrow)" stroke-width="6.0" stroke-linejoin="round"/>
<rect x="1024" y="3072.5" width="359" height="128.5" rx="64.25" fill="url(#gPillOut)"/>
<rect x="1036.6" y="3085.1" width="333.8" height="103.3" rx="51.65" fill="url(#gPillIn)"/>
<text x="1210.0" y="3149.5" font-size="46" font-weight="bold" fill="#111111" text-anchor="middle" textLength="210" lengthAdjust="spacingAndGlyphs">จบโครงการ</text>
<polygon points="2373.0,678.0 2401.0,723.0 2345.0,723.0" fill="url(#gArrow)" stroke="url(#gArrow)" stroke-width="6.0" stroke-linejoin="round"/>
<polygon points="2349.0,3165.0 2405.0,3165.0 2377.0,3211.0" fill="url(#gArrow)" stroke="url(#gArrow)" stroke-width="6.0" stroke-linejoin="round"/>
<g fill="#4a4a4a"><circle cx="2373.5" cy="738.0" r="4.6"/><circle cx="2373.5" cy="752.3" r="4.6"/><circle cx="2373.5" cy="766.7" r="4.6"/><circle cx="2373.5" cy="781.0" r="4.6"/><circle cx="2373.5" cy="795.3" r="4.6"/><circle cx="2373.5" cy="809.6" r="4.6"/><circle cx="2373.5" cy="824.0" r="4.6"/><circle cx="2373.5" cy="838.3" r="4.6"/><circle cx="2373.5" cy="852.6" r="4.6"/><circle cx="2373.5" cy="867.0" r="4.6"/><circle cx="2373.5" cy="881.3" r="4.6"/><circle cx="2373.5" cy="895.6" r="4.6"/><circle cx="2373.5" cy="909.9" r="4.6"/><circle cx="2373.5" cy="924.3" r="4.6"/><circle cx="2373.5" cy="938.6" r="4.6"/><circle cx="2373.5" cy="952.9" r="4.6"/><circle cx="2373.5" cy="967.2" r="4.6"/><circle cx="2373.5" cy="981.6" r="4.6"/><circle cx="2373.5" cy="995.9" r="4.6"/><circle cx="2373.5" cy="1010.2" r="4.6"/><circle cx="2373.5" cy="1024.6" r="4.6"/><circle cx="2373.5" cy="1038.9" r="4.6"/><circle cx="2373.5" cy="1053.2" r="4.6"/><circle cx="2373.5" cy="1067.5" r="4.6"/><circle cx="2373.5" cy="1081.9" r="4.6"/><circle cx="2373.5" cy="1096.2" r="4.6"/><circle cx="2373.5" cy="1110.5" r="4.6"/><circle cx="2373.5" cy="1124.9" r="4.6"/><circle cx="2373.5" cy="1139.2" r="4.6"/><circle cx="2373.5" cy="1153.5" r="4.6"/><circle cx="2373.5" cy="1167.8" r="4.6"/><circle cx="2373.5" cy="1182.2" r="4.6"/><circle cx="2373.5" cy="1196.5" r="4.6"/><circle cx="2373.5" cy="1210.8" r="4.6"/><circle cx="2373.5" cy="1225.2" r="4.6"/><circle cx="2373.5" cy="1239.5" r="4.6"/><circle cx="2373.5" cy="1253.8" r="4.6"/><circle cx="2373.5" cy="1268.1" r="4.6"/><circle cx="2373.5" cy="1282.5" r="4.6"/><circle cx="2373.5" cy="1296.8" r="4.6"/><circle cx="2373.5" cy="1311.1" r="4.6"/><circle cx="2373.5" cy="1325.4" r="4.6"/><circle cx="2373.5" cy="1339.8" r="4.6"/><circle cx="2373.5" cy="1354.1" r="4.6"/><circle cx="2373.5" cy="1368.4" r="4.6"/><circle cx="2373.5" cy="1382.8" r="4.6"/><circle cx="2373.5" cy="1397.1" r="4.6"/><circle cx="2373.5" cy="1411.4" r="4.6"/><circle cx="2373.5" cy="1425.7" r="4.6"/><circle cx="2373.5" cy="1440.1" r="4.6"/><circle cx="2373.5" cy="1454.4" r="4.6"/><circle cx="2373.5" cy="1468.7" r="4.6"/><circle cx="2373.5" cy="1483.1" r="4.6"/><circle cx="2373.5" cy="1497.4" r="4.6"/><circle cx="2373.5" cy="1511.7" r="4.6"/><circle cx="2373.5" cy="1526.0" r="4.6"/><circle cx="2373.5" cy="1540.4" r="4.6"/><circle cx="2373.5" cy="1554.7" r="4.6"/><circle cx="2373.5" cy="1569.0" r="4.6"/><circle cx="2373.5" cy="1583.4" r="4.6"/><circle cx="2373.5" cy="1597.7" r="4.6"/><circle cx="2373.5" cy="1612.0" r="4.6"/><circle cx="2373.5" cy="1626.3" r="4.6"/><circle cx="2373.5" cy="1640.7" r="4.6"/><circle cx="2373.5" cy="1655.0" r="4.6"/><circle cx="2373.5" cy="1669.3" r="4.6"/><circle cx="2373.5" cy="1683.6" r="4.6"/><circle cx="2373.5" cy="1698.0" r="4.6"/><circle cx="2373.5" cy="1712.3" r="4.6"/><circle cx="2373.5" cy="1726.6" r="4.6"/><circle cx="2373.5" cy="1741.0" r="4.6"/><circle cx="2373.5" cy="1755.3" r="4.6"/><circle cx="2373.5" cy="1769.6" r="4.6"/><circle cx="2373.5" cy="1783.9" r="4.6"/><circle cx="2373.5" cy="1798.3" r="4.6"/><circle cx="2373.5" cy="1812.6" r="4.6"/><circle cx="2373.5" cy="1826.9" r="4.6"/><circle cx="2373.5" cy="1841.3" r="4.6"/><circle cx="2373.5" cy="1855.6" r="4.6"/><circle cx="2373.5" cy="1869.9" r="4.6"/><circle cx="2373.5" cy="1884.2" r="4.6"/><circle cx="2373.5" cy="1898.6" r="4.6"/><circle cx="2373.5" cy="1912.9" r="4.6"/><circle cx="2373.5" cy="1927.2" r="4.6"/><circle cx="2373.5" cy="1941.6" r="4.6"/><circle cx="2373.5" cy="1955.9" r="4.6"/><circle cx="2373.5" cy="1970.2" r="4.6"/><circle cx="2373.5" cy="1984.5" r="4.6"/><circle cx="2373.5" cy="1998.9" r="4.6"/><circle cx="2373.5" cy="2013.2" r="4.6"/><circle cx="2373.5" cy="2027.5" r="4.6"/><circle cx="2373.5" cy="2041.8" r="4.6"/><circle cx="2373.5" cy="2056.2" r="4.6"/><circle cx="2373.5" cy="2070.5" r="4.6"/><circle cx="2373.5" cy="2084.8" r="4.6"/><circle cx="2373.5" cy="2099.2" r="4.6"/><circle cx="2373.5" cy="2113.5" r="4.6"/><circle cx="2373.5" cy="2127.8" r="4.6"/><circle cx="2373.5" cy="2142.1" r="4.6"/><circle cx="2373.5" cy="2156.5" r="4.6"/><circle cx="2373.5" cy="2170.8" r="4.6"/><circle cx="2373.5" cy="2185.1" r="4.6"/><circle cx="2373.5" cy="2199.5" r="4.6"/><circle cx="2373.5" cy="2213.8" r="4.6"/><circle cx="2373.5" cy="2228.1" r="4.6"/><circle cx="2373.5" cy="2242.4" r="4.6"/><circle cx="2373.5" cy="2256.8" r="4.6"/><circle cx="2373.5" cy="2271.1" r="4.6"/><circle cx="2373.5" cy="2285.4" r="4.6"/><circle cx="2373.5" cy="2299.8" r="4.6"/><circle cx="2373.5" cy="2314.1" r="4.6"/><circle cx="2373.5" cy="2328.4" r="4.6"/><circle cx="2373.5" cy="2342.7" r="4.6"/><circle cx="2373.5" cy="2357.1" r="4.6"/><circle cx="2373.5" cy="2371.4" r="4.6"/><circle cx="2373.5" cy="2385.7" r="4.6"/><circle cx="2373.5" cy="2400.0" r="4.6"/><circle cx="2373.5" cy="2414.4" r="4.6"/><circle cx="2373.5" cy="2428.7" r="4.6"/><circle cx="2373.5" cy="2443.0" r="4.6"/><circle cx="2373.5" cy="2457.4" r="4.6"/><circle cx="2373.5" cy="2471.7" r="4.6"/><circle cx="2373.5" cy="2486.0" r="4.6"/><circle cx="2373.5" cy="2500.3" r="4.6"/><circle cx="2373.5" cy="2514.7" r="4.6"/><circle cx="2373.5" cy="2529.0" r="4.6"/><circle cx="2373.5" cy="2543.3" r="4.6"/><circle cx="2373.5" cy="2557.7" r="4.6"/><circle cx="2373.5" cy="2572.0" r="4.6"/><circle cx="2373.5" cy="2586.3" r="4.6"/><circle cx="2373.5" cy="2600.6" r="4.6"/><circle cx="2373.5" cy="2615.0" r="4.6"/><circle cx="2373.5" cy="2629.3" r="4.6"/><circle cx="2373.5" cy="2643.6" r="4.6"/><circle cx="2373.5" cy="2658.0" r="4.6"/><circle cx="2373.5" cy="2672.3" r="4.6"/><circle cx="2373.5" cy="2686.6" r="4.6"/><circle cx="2373.5" cy="2700.9" r="4.6"/><circle cx="2373.5" cy="2715.3" r="4.6"/><circle cx="2373.5" cy="2729.6" r="4.6"/><circle cx="2373.5" cy="2743.9" r="4.6"/><circle cx="2373.5" cy="2758.2" r="4.6"/><circle cx="2373.5" cy="2772.6" r="4.6"/><circle cx="2373.5" cy="2786.9" r="4.6"/><circle cx="2373.5" cy="2801.2" r="4.6"/><circle cx="2373.5" cy="2815.6" r="4.6"/><circle cx="2373.5" cy="2829.9" r="4.6"/><circle cx="2373.5" cy="2844.2" r="4.6"/><circle cx="2373.5" cy="2858.5" r="4.6"/><circle cx="2373.5" cy="2872.9" r="4.6"/><circle cx="2373.5" cy="2887.2" r="4.6"/><circle cx="2373.5" cy="2901.5" r="4.6"/><circle cx="2373.5" cy="2915.9" r="4.6"/><circle cx="2373.5" cy="2930.2" r="4.6"/><circle cx="2373.5" cy="2944.5" r="4.6"/><circle cx="2373.5" cy="2958.8" r="4.6"/><circle cx="2373.5" cy="2973.2" r="4.6"/><circle cx="2373.5" cy="2987.5" r="4.6"/><circle cx="2373.5" cy="3001.8" r="4.6"/><circle cx="2373.5" cy="3016.2" r="4.6"/><circle cx="2373.5" cy="3030.5" r="4.6"/><circle cx="2373.5" cy="3044.8" r="4.6"/><circle cx="2373.5" cy="3059.1" r="4.6"/><circle cx="2373.5" cy="3073.5" r="4.6"/><circle cx="2373.5" cy="3087.8" r="4.6"/><circle cx="2373.5" cy="3102.1" r="4.6"/><circle cx="2373.5" cy="3116.4" r="4.6"/><circle cx="2373.5" cy="3130.8" r="4.6"/><circle cx="2373.5" cy="3145.1" r="4.6"/><circle cx="2373.5" cy="3159.4" r="4.6"/><circle cx="2373.5" cy="3173.8" r="4.6"/></g>
<g transform="translate(2342,2575.5) rotate(-90)"><text x="0" y="0" font-size="54" font-weight="normal" fill="#cf5f87" stroke="#cf5f87" stroke-width="1.2" text-anchor="middle" textLength="789" lengthAdjust="spacingAndGlyphs">ประชาสัมพันธ์ตลอดระยะเวลาโครงการ</text></g>
</svg></body></html>
